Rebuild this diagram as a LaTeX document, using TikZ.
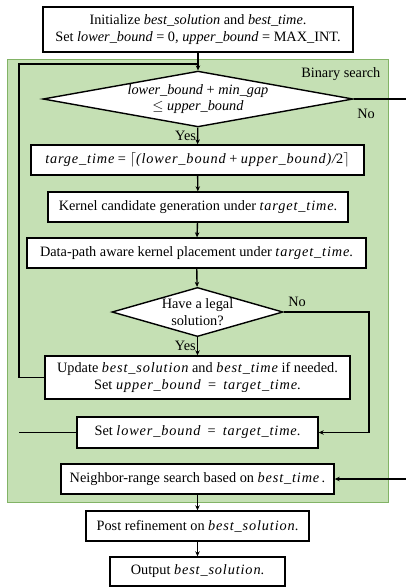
\documentclass[tikz,border=0pt]{standalone}
\usepackage{fontspec}
\setmainfont{Liberation Serif}
\newfontfamily\mvfont{Liberation Serif}[LetterSpace=6]
\usetikzlibrary{shapes.geometric,arrows.meta}
\definecolor{bsfill}{HTML}{C5E0B4}
\definecolor{bsline}{HTML}{82B366}
\newcommand{\vn}[1]{\textit{#1}}
\newcommand{\vm}[1]{{\mvfont\itshape #1}}
\begin{document}
\begin{tikzpicture}[x=1pt,y=-1pt,font=\fontsize{14.3}{16.5}\selectfont,
    line width=1.4pt,>={Stealth[length=5pt,width=4.5pt]}]

        \useasboundingbox (0,0) rectangle (405,587);
        \fill[bsfill,draw=bsline,line width=1pt] (7.5,59) rectangle (388,502);
        \node[anchor=north east,inner sep=0pt] (bs) at (381,67) {Binary search};

        \begin{scope}[every node/.style={rectangle,draw,fill=white,align=center,inner sep=1pt}]
          \node[minimum width=310pt,minimum height=45pt] (init) at (198,29.5)
            {Initialize \vn{best\_solution} and \vn{best\_time}.\\Set \vn{lower\_bound} = 0, \vn{upper\_bound} = MAX\_INT.};
          \node[diamond,aspect=5.34,minimum width=310pt,inner sep=0pt] (cond) at (198,99)
            {\vn{lower\_bound} + \vn{min\_gap}\\$\leq$ \vn{upper\_bound}};
          \node[minimum width=333pt,minimum height=30pt] (mid) at (197.5,160)
            {\vm{targe\_time} = $\lceil$\vm{(lower\_bound} + \vm{upper\_bound)/}2$\rceil$};
          \node[minimum width=300pt,minimum height=30pt] (gen) at (198,207)
            {Kernel candidate generation under \vm{target\_time}.};
          \node[minimum width=339pt,minimum height=30pt] (place) at (196.5,253)
            {Data-path aware kernel placement under \vm{target\_time}.};
          \node[diamond,aspect=3.17,minimum width=171pt,inner sep=0pt] (legal) at (197.5,312)
            {Have a legal\\solution?};
          \node[minimum width=305pt,minimum height=43pt] (upd) at (197.5,377.5)
            {Update \vm{best\_solution} and \vm{best\_time} if needed.\\Set \vm{upper\_bound}~~=~~\vm{target\_time}.};
          \node[minimum width=241pt,minimum height=31pt] (low) at (197.5,432.5)
            {Set \vm{lower\_bound}~~=~~\vm{target\_time}.};
          \node[minimum width=273pt,minimum height=30pt] (nbr) at (197.5,479)
            {Neighbor-range search based on \vm{best\_time}\,.};
          \node[minimum width=223pt,minimum height=30pt] (post) at (197.5,526)
            {Post refinement on \vm{best\_solution}.};
          \node[minimum width=175pt,minimum height=29pt] (out) at (197.5,571.5)
            {Output \vm{best\_solution}.};
        \end{scope}

        \coordinate (looptop) at (19,64);
        \coordinate (noright) at (409,99);
        \coordinate (legalright) at (369,312);

        \draw[->] (init) -- (cond);
        \draw[->] (cond) -- node[pos=0.5,left,inner sep=1pt] {Yes} (mid);
        \draw[->] (mid) -- (gen);
        \draw[->] (gen) -- (place);
        \draw[->] (place) -- (legal);
        \draw[->] (legal) -- node[pos=0.5,left,inner sep=1pt] {Yes} (upd);
        \draw[->] (nbr) -- (post);
        \draw[->] (post) -- (out);
        \draw (upd.west) -- (upd.west -| looptop) -- (looptop) -- (looptop -| cond.north);
        \draw (low.west) -- (low.west -| looptop);
        \draw[->] (cond.east) -- (noright) -- (noright |- nbr.east) -- (nbr.east);
        \draw[->] (legal.east) -- (legalright) -- (legalright |- low.east) -- (low.east);
        \node (no1) at (366,114) {No};
        \node (no2) at (297,302) {No};

      \end{tikzpicture}
\end{document}
